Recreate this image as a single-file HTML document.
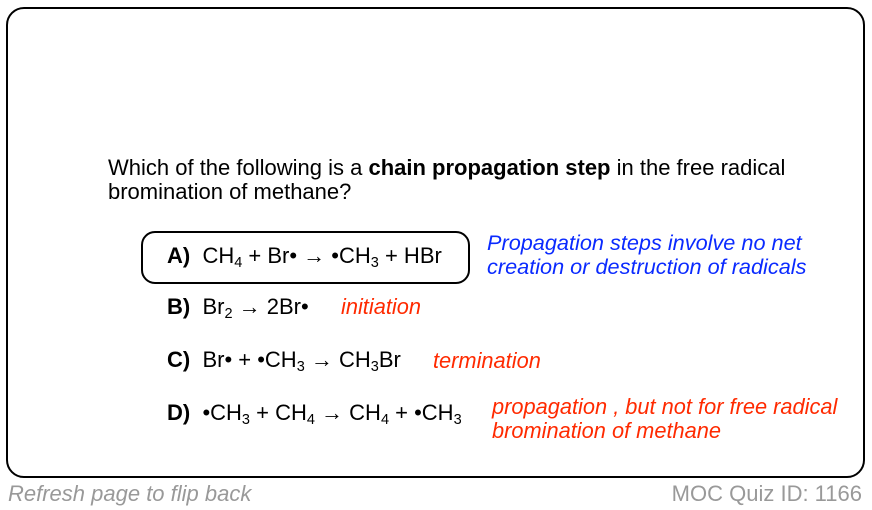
<!DOCTYPE html>
<html><head><style>
body{margin:0;width:872px;height:510px;background:#fff;font-family:"Liberation Sans",Arial,sans-serif;position:relative;overflow:hidden}
.a{position:absolute;white-space:nowrap}
.frame{position:absolute;left:6px;top:7px;width:855px;height:467px;border:2.5px solid #000;border-radius:18px}
.boxA{position:absolute;left:141px;top:231px;width:325px;height:49px;border:2.5px solid #000;border-radius:14px}
.q{font-size:22px;color:#000;line-height:24px}
.ans{font-size:22px;color:#000;line-height:24px}
sub{font-size:14.5px;vertical-align:-4px;line-height:0}
.red{color:#ff2a00;font-style:italic;font-size:21.8px;line-height:24px}
.blue{color:#0a2aff;font-style:italic;font-size:21.7px;line-height:24px}
.gray{color:#999;font-size:22px;line-height:24px}
</style></head><body>
<div class="frame"></div>
<div class="boxA"></div>
<div class="a q" style="left:108px;top:156px">Which of the following is a <b>chain propagation step</b> in the free radical<br>bromination of methane?</div>
<div class="a ans" style="left:167px;top:244px"><b>A)</b>&nbsp; CH<sub>4</sub> + Br• → •CH<sub>3</sub> + HBr</div>
<div class="a blue" style="left:487px;top:231px">Propagation steps involve no net<br>creation or destruction of radicals</div>
<div class="a ans" style="left:167px;top:295px"><b>B)</b>&nbsp; Br<sub>2</sub> → 2Br•</div>
<div class="a red" style="left:341px;top:295px">initiation</div>
<div class="a ans" style="left:167px;top:348px"><b>C)</b>&nbsp; Br• + •CH<sub>3</sub> → CH<sub>3</sub>Br</div>
<div class="a red" style="left:433px;top:349px">termination</div>
<div class="a ans" style="left:167px;top:401px"><b>D)</b>&nbsp; •CH<sub>3</sub> + CH<sub>4</sub> → CH<sub>4</sub> + •CH<sub>3</sub></div>
<div class="a red" style="left:492px;top:395px">propagation , but not for free radical<br>bromination of methane</div>
<div class="a gray" style="left:8px;top:482px;font-style:italic">Refresh page to flip back</div>
<div class="a gray" style="right:10px;top:482px">MOC Quiz ID: 1166</div>
</body></html>
